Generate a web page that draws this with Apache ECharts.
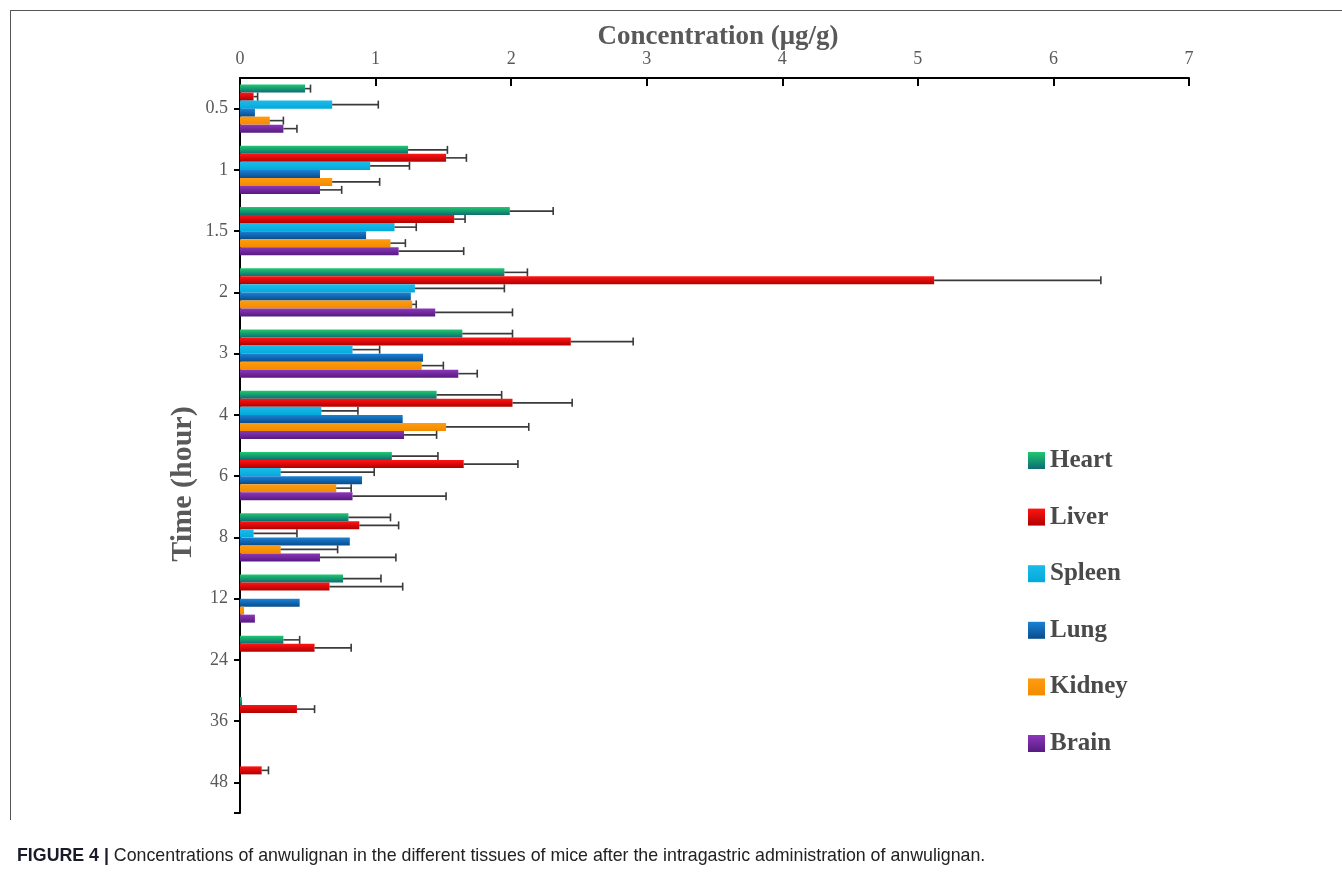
<!DOCTYPE html>
<html>
<head>
<meta charset="utf-8">
<title>Anwulignan tissue concentrations</title>
<script src="https://cdn.jsdelivr.net/npm/echarts@6/dist/echarts.min.js"></script>
<style>
  html, body { margin: 0; padding: 0; background: #ffffff; }
  #chart { width: 1342px; height: 872px; }
</style>
</head>
<body>
<div id="chart"></div>
<script>
// Sampling times (hours)
const timePoints = ['0.5', '1', '1.5', '2', '3', '4', '6', '8', '12', '24', '36', '48'];
const concTicks = [0, 1, 2, 3, 4, 5, 6, 7];

// Mean concentration (µg/g) per tissue; null = not detected
const heart  = [0.48, 1.24, 1.99, 1.95, 1.64, 1.45, 1.12, 0.80, 0.76, 0.32, 0.015, null];
const liver  = [0.10, 1.52, 1.58, 5.12, 2.44, 2.01, 1.65, 0.88, 0.66, 0.55, 0.42, 0.16];
const spleen = [0.68, 0.96, 1.14, 1.29, 0.83, 0.60, 0.30, 0.10, null, null, null, null];
const lung   = [0.11, 0.59, 0.93, 1.26, 1.35, 1.20, 0.90, 0.81, 0.44, null, null, null];
const kidney = [0.22, 0.68, 1.11, 1.27, 1.34, 1.52, 0.71, 0.30, 0.03, null, null, null];
const brain  = [0.32, 0.59, 1.17, 1.44, 1.61, 1.21, 0.83, 0.59, 0.11, null, null, null];

// Standard deviations (µg/g); null = no error bar
const heartSD  = [0.04, 0.29, 0.32, 0.17, 0.37, 0.48, 0.34, 0.31, 0.28, 0.12, null, null];
const liverSD  = [0.03, 0.15, 0.08, 1.23, 0.46, 0.44, 0.40, 0.29, 0.54, 0.27, 0.13, 0.05];
const spleenSD = [0.34, 0.29, 0.16, 0.66, 0.20, 0.27, 0.69, 0.32, null, null, null, null];
const lungSD   = [null, 0.28, 0.80, 0.75, 0.22, 0.16, 0.66, 0.14, 0.15, null, null, null];
const kidneySD = [0.10, 0.35, 0.11, 0.03, 0.16, 0.61, 0.11, 0.42, null, null, null, null];
const brainSD  = [0.10, 0.16, 0.48, 0.57, 0.14, 0.24, 0.69, 0.56, null, null, null, null];

const tissueNames = ['Heart', 'Liver', 'Spleen', 'Lung', 'Kidney', 'Brain'];
const tissueMeans = [heart, liver, spleen, lung, kidney, brain];
const tissueSDs = [heartSD, liverSD, spleenSD, lungSD, kidneySD, brainSD];

// Two-stop vertical fills, lighter on top
const tissueFills = [
  ['#1fc86f', '#0d6b73'],
  ['#ff1414', '#b00000'],
  ['#1bbbe9', '#03a9dc'],
  ['#1b82d6', '#0a4c8c'],
  ['#ff9c10', '#f38a00'],
  ['#8c38bb', '#571a80']
];

const CAT_GAP = 0.216; // fraction of each band left empty
const nSeries = tissueNames.length;
const GRID = { left: 240, right: 153, top: 78, height: 735 };

function gradient(pair) {
  return new echarts.graphic.LinearGradient(0, 0, 0, 1, [
    { offset: 0, color: pair[0] },
    { offset: 1, color: pair[1] }
  ]);
}

const serif = '"Liberation Serif", "Times New Roman", serif';
const axisGrey = '#595959';

const barSeries = tissueNames.map((name, i) => ({
  name: name,
  type: 'bar',
  data: tissueMeans[i],
  barGap: '0%',
  barCategoryGap: (CAT_GAP * 100) + '%',
  itemStyle: { color: gradient(tissueFills[i]) },
  z: 2
}));

// Error bars: line from mean to mean+SD with an end cap, placed on each tissue's bar slot
const errSeries = tissueNames.map((name, i) => ({
  name: name + ' SD',
  type: 'custom',
  z: 3,
  silent: true,
  data: tissueMeans[i].map((m, k) => (m == null || tissueSDs[i][k] == null) ? null : [m, k, m + tissueSDs[i][k]]),
  encode: { x: [0, 2], y: 1 },
  renderItem: function (params, api) {
    const cat = api.value(1);
    const start = api.coord([api.value(0), cat]);
    const end = api.coord([api.value(2), cat]);
    const band = Math.abs(api.size([0, 1])[1]);
    const bw = band * (1 - CAT_GAP) / nSeries;
    const y = start[1] - (bw * nSeries) / 2 + bw * i + bw / 2;
    const cap = 4;
    const style = { stroke: '#3a3a3a', lineWidth: 1.6, fill: null };
    return {
      type: 'group',
      children: [
        { type: 'line', shape: { x1: start[0], y1: y, x2: end[0], y2: y }, style: style },
        { type: 'line', shape: { x1: end[0], y1: y - cap, x2: end[0], y2: y + cap }, style: style }
      ]
    };
  }
}));

const chart = echarts.init(document.getElementById('chart'), null, { renderer: 'canvas' });

const gridBottom = GRID.top + GRID.height;

chart.setOption({
  backgroundColor: '#ffffff',
  animation: false,
  grid: GRID,
  legend: {
    data: tissueNames,
    orient: 'vertical',
    left: 1023,
    top: 443,
    itemWidth: 17,
    itemHeight: 17,
    itemGap: 31.6,
    icon: 'rect',
    textStyle: {
      fontFamily: serif,
      fontWeight: 'bold',
      fontSize: 25,
      lineHeight: 25,
      color: '#4a4a4a'
    }
  },
  xAxis: {
    type: 'value',
    position: 'top',
    min: concTicks[0],
    max: concTicks[concTicks.length - 1],
    interval: 1,
    axisLine: { show: true, lineStyle: { color: '#000000', width: 2 } },
    axisTick: { show: true, inside: true, length: 8, lineStyle: { color: '#000000', width: 2 } },
    axisLabel: { fontFamily: serif, fontSize: 18, color: axisGrey, margin: 10 },
    splitLine: { show: false }
  },
  yAxis: {
    type: 'category',
    inverse: true,
    data: timePoints,
    axisLine: { show: true, lineStyle: { color: '#000000', width: 2 } },
    axisTick: { show: true, alignWithLabel: true, length: 6, lineStyle: { color: '#000000', width: 2 } },
    axisLabel: { fontFamily: serif, fontSize: 18, color: axisGrey, margin: 12 },
    splitLine: { show: false }
  },
  graphic: [
    // figure frame
    { type: 'line', shape: { x1: 10, y1: 10.5, x2: 1342, y2: 10.5 }, style: { stroke: '#555', lineWidth: 1 } },
    { type: 'line', shape: { x1: 10.5, y1: 10, x2: 10.5, y2: 820 }, style: { stroke: '#555', lineWidth: 1 } },
    // closing tick at the end of the time axis
    { type: 'line', shape: { x1: GRID.left - 6, y1: gridBottom, x2: GRID.left, y2: gridBottom }, style: { stroke: '#000', lineWidth: 2 } },
    // horizontal axis title
    {
      type: 'text',
      x: 718, y: 37,
      style: {
        text: 'Concentration (μg/g)',
        font: 'bold 27px ' + serif,
        fill: axisGrey,
        align: 'center',
        verticalAlign: 'middle'
      }
    },
    // vertical axis title
    {
      type: 'text',
      x: 183, y: 484,
      rotation: Math.PI / 2,
      style: {
        text: 'Time (hour)',
        font: 'bold 30px ' + serif,
        fill: axisGrey,
        align: 'center',
        verticalAlign: 'middle'
      }
    },
    // caption
    {
      type: 'text',
      x: 17, y: 856,
      style: {
        text: '{b|FIGURE 4 |} Concentrations of anwulignan in the different tissues of mice after the intragastric administration of anwulignan.',
        verticalAlign: 'middle',
        font: '17.8px "Liberation Sans", Arial, sans-serif',
        fill: '#222222',
        rich: {
          b: { font: 'bold 17.8px "Liberation Sans", Arial, sans-serif', fill: '#1a1a2a' }
        }
      }
    }
  ],
  series: barSeries.concat(errSeries)
});
</script>
</body>
</html>
